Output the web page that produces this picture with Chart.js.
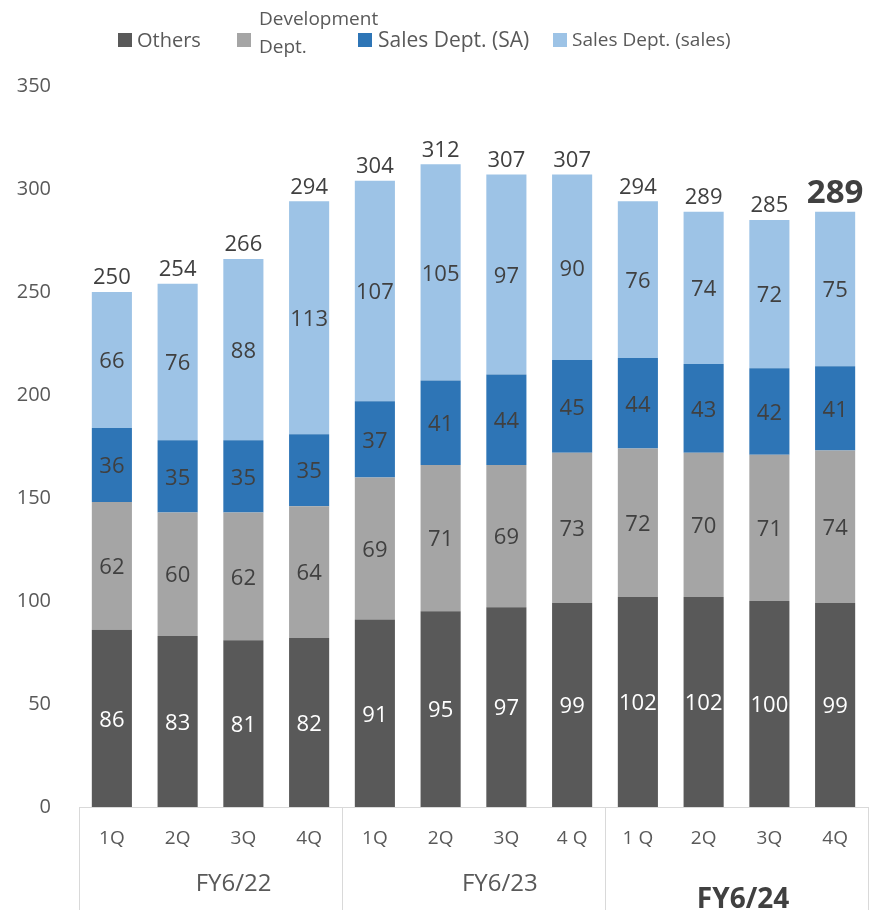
<!DOCTYPE html>
<html>
<head>
<meta charset="utf-8">
<script src="https://cdn.jsdelivr.net/npm/chart.js@4/dist/chart.umd.min.js"></script>
<style>
  html, body { margin: 0; padding: 0; background: #fff; }
  #wrap { position: relative; width: 883px; height: 916px; }
  #c { position: absolute; left: 0; top: 0; }
  .lg { position: absolute; font-family: "Open Sans", sans-serif; color: #595959; white-space: nowrap; }
  .sw { position: absolute; width: 14px; height: 14px; }
</style>
</head>
<body>
<div id="wrap">
  <canvas id="c" width="883" height="916"></canvas>
  <div class="sw" style="left:118px;top:33px;background:#595959"></div>
  <div class="lg" style="left:137px;top:26px;font-size:20px">Others</div>
  <div class="sw" style="left:237px;top:33px;background:#A5A5A5"></div>
  <div class="lg" style="left:259px;top:4px;font-size:19px;line-height:28px">Development<br>Dept.</div>
  <div class="sw" style="left:358px;top:33px;background:#2E75B6"></div>
  <div class="lg" style="left:378px;top:25px;font-size:21px">Sales Dept. (SA)</div>
  <div class="sw" style="left:553px;top:33px;background:#9DC3E6"></div>
  <div class="lg" style="left:572px;top:26px;font-size:19px">Sales Dept. (sales)</div>
</div>
<script>
// Quarterly headcount by department
const quarters = ['1Q', '2Q', '3Q', '4Q', '1Q', '2Q', '3Q', '4 Q', '1 Q', '2Q', '3Q', '4Q'];
const fiscalYears = ['FY6/22', 'FY6/23', 'FY6/24'];
const others = [86, 83, 81, 82, 91, 95, 97, 99, 102, 102, 100, 99];
const development = [62, 60, 62, 64, 69, 71, 69, 73, 72, 70, 71, 74];
const salesSA = [36, 35, 35, 35, 37, 41, 44, 45, 44, 43, 42, 41];
const salesSales = [66, 76, 88, 113, 107, 105, 97, 90, 76, 74, 72, 75];
const yTicks = [0, 50, 100, 150, 200, 250, 300, 350];

const totals = quarters.map((_, i) => others[i] + development[i] + salesSA[i] + salesSales[i]);
const FONT = '"Open Sans", sans-serif';
const TEXT = '#404040';

// Values inside each segment plus totals above each stack
const valueLabels = {
  id: 'valueLabels',
  afterDatasetsDraw(chart) {
    const ctx = chart.ctx;
    ctx.save();
    ctx.textAlign = 'center';
    ctx.textBaseline = 'middle';
    chart.data.datasets.forEach((ds, di) => {
      const meta = chart.getDatasetMeta(di);
      meta.data.forEach((bar, i) => {
        const midY = (bar.y + bar.base) / 2;
        ctx.fillStyle = di === 0 ? '#ffffff' : TEXT;
        ctx.font = '22px ' + FONT;
        ctx.fillText(String(ds.data[i]), bar.x, midY + 2);
      });
    });
    const y = chart.scales.y;
    const top = chart.getDatasetMeta(chart.data.datasets.length - 1);
    top.data.forEach((bar, i) => {
      const last = i === totals.length - 1;
      ctx.fillStyle = TEXT;
      ctx.font = (last ? 'bold 33px ' : '22px ') + FONT;
      ctx.fillText(String(totals[i]), bar.x, y.getPixelForValue(totals[i]) - (last ? 18 : 14));
    });
    ctx.restore();
  }
};

// Fiscal-year grouping under the quarter labels
const yearGroups = {
  id: 'yearGroups',
  afterDraw(chart) {
    const ctx = chart.ctx;
    const x = chart.scales.x;
    const step = x.getPixelForValue(1) - x.getPixelForValue(0);
    const bottom = chart.height - 6;
    const top = chart.chartArea.bottom;
    ctx.save();
    ctx.strokeStyle = '#d9d9d9';
    ctx.lineWidth = 1;
    for (let g = 0; g <= fiscalYears.length; g++) {
      const px = Math.round(x.getPixelForValue(g * 4) - step / 2) + 0.5;
      ctx.beginPath();
      ctx.moveTo(px, top);
      ctx.lineTo(px, bottom);
      ctx.stroke();
    }
    // label centres, in category units
    const centers = [1.85, 5.9, 9.6];
    ctx.textAlign = 'center';
    ctx.textBaseline = 'middle';
    fiscalYears.forEach((label, g) => {
      const last = g === fiscalYears.length - 1;
      ctx.fillStyle = last ? TEXT : '#595959';
      ctx.font = (last ? 'bold 28px ' : '24px ') + FONT;
      const cx = x.getPixelForValue(0) + centers[g] * step;
      ctx.fillText(label, cx, last ? 900 : 884);
    });
    ctx.restore();
  }
};

new Chart(document.getElementById('c'), {
  type: 'bar',
  data: {
    labels: quarters,
    datasets: [
      { label: 'Others', data: others, backgroundColor: '#595959' },
      { label: 'Development Dept.', data: development, backgroundColor: '#A5A5A5' },
      { label: 'Sales Dept. (SA)', data: salesSA, backgroundColor: '#2E75B6' },
      { label: 'Sales Dept. (sales)', data: salesSales, backgroundColor: '#9DC3E6' }
    ]
  },
  options: {
    responsive: false,
    animation: false,
    devicePixelRatio: 1,
    layout: { padding: { top: 86, right: 15, left: 0, bottom: 0 } },
    datasets: { bar: { categoryPercentage: 0.61, barPercentage: 1 } },
    plugins: { legend: { display: false }, tooltip: { enabled: false } },
    scales: {
      x: {
        stacked: true,
        grid: { display: false, drawTicks: false },
        border: { display: true, color: '#d9d9d9', width: 1 },
        ticks: { color: '#595959', font: { family: FONT, size: 19 }, padding: 20, maxRotation: 0, autoSkip: false },
        afterFit(s) { s.height = 109; }
      },
      y: {
        stacked: true,
        min: 0,
        max: 350,
        afterBuildTicks(s) { s.ticks = yTicks.map(v => ({ value: v })); },
        grid: { display: false, drawTicks: false },
        border: { display: false },
        ticks: { color: '#595959', font: { family: FONT, size: 20 }, padding: 28 },
        afterFit(s) { s.width = 79; }
      }
    }
  },
  plugins: [valueLabels, yearGroups]
});
</script>
</body>
</html>
